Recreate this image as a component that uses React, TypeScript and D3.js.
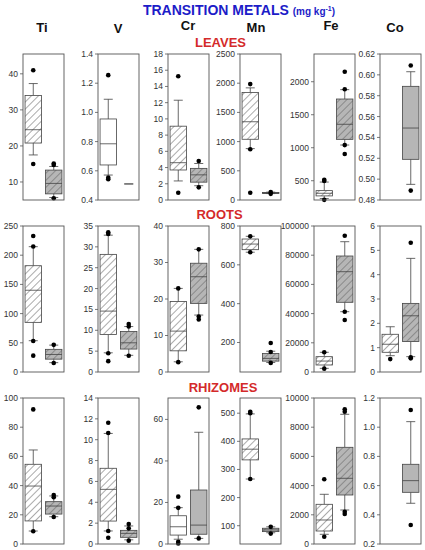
import React from "react";
import * as d3 from "d3";

type Stat = { g: number; lo: number; q1: number; med: number; q3: number; hi: number; out: number[] };

const metals = ["Ti", "V", "Cr", "Mn", "Fe", "Co"];
const tissues = ["LEAVES", "ROOTS", "RHIZOMES"];

// y-axis domains per panel
const leavesDomains = [[5, 45.5], [0.4, 1.4], [0, 18], [0, 2500], [208, 2420], [0.48, 0.62]];
const rootsDomains = [[0, 250], [0, 35], [0, 40], [48, 800], [0, 100000], [0, 6]];
const rhizomesDomains = [[0, 100], [0, 14], [0, 70.3], [35, 554], [0, 10000], [0.2, 1.2]];

// tick labels per panel
const leavesTicks = [
  ["10", "20", "30", "40"],
  ["0.4", "0.6", "0.8", "1.0", "1.2", "1.4"],
  ["0", "2", "4", "6", "8", "10", "12", "14", "16", "18"],
  ["0", "500", "1000", "1500", "2000", "2500"],
  ["500", "1000", "1500", "2000"],
  ["0.48", "0.50", "0.52", "0.54", "0.56", "0.58", "0.60", "0.62"],
];
const rootsTicks = [
  ["0", "50", "100", "150", "200", "250"],
  ["0", "5", "10", "15", "20", "25", "30", "35"],
  ["0", "10", "20", "30", "40"],
  ["200", "400", "600", "800"],
  ["0", "20000", "40000", "60000", "80000", "100000"],
  ["0", "1", "2", "3", "4", "5", "6"],
];
const rhizomesTicks = [
  ["0", "20", "40", "60", "80", "100"],
  ["0", "2", "4", "6", "8", "10", "12", "14"],
  ["0", "20", "40", "60"],
  ["100", "200", "300", "400", "500"],
  ["0", "2000", "4000", "6000", "8000", "10000"],
  ["0.2", "0.4", "0.6", "0.8", "1.0", "1.2"],
];

// box statistics: [metal index][group]
const leavesStats: (Stat | null)[][] = [
  [
    { g: 0, lo: 17.5, q1: 20.8, med: 24.5, q3: 34, hi: 37.3, out: [15, 41] },
    { g: 1, lo: 5.7, q1: 6.7, med: 9.6, q3: 13.3, hi: 14.3, out: [5.5, 14.7, 15.1] },
  ],
  [
    { g: 0, lo: 0.571, q1: 0.64, med: 0.785, q3: 0.955, hi: 1.09, out: [0.542, 0.553, 1.255] },
    { g: 1, lo: 0.51, q1: 0.51, med: 0.51, q3: 0.51, hi: 0.51, out: [] },
  ],
  [
    { g: 0, lo: 2.35, q1: 3.7, med: 4.6, q3: 9.1, hi: 12.3, out: [0.9, 15.25] },
    { g: 1, lo: 1.76, q1: 2.2, med: 3.1, q3: 3.9, hi: 4.5, out: [1.56, 4.8] },
  ],
  [
    { g: 0, lo: 880, q1: 1040, med: 1340, q3: 1840, hi: 1920, out: [125, 870, 1985] },
    { g: 1, lo: 110, q1: 110, med: 120, q3: 130, hi: 135, out: [105, 135] },
  ],
  [
    { g: 0, lo: 230, q1: 270, med: 310, q3: 350, hi: 480, out: [210, 495, 515] },
    { g: 1, lo: 1041, q1: 1127, med: 1355, q3: 1738, hi: 1880, out: [905, 1040, 1885, 2150] },
  ],
  [
    null,
    { g: 1, lo: 0.495, q1: 0.519, med: 0.549, q3: 0.589, hi: 0.603, out: [0.489, 0.609] },
  ],
];
const rootsStats: (Stat | null)[][] = [
  [
    { g: 0, lo: 53.6, q1: 85, med: 140, q3: 182, hi: 214.6, out: [28, 53, 215, 233] },
    { g: 1, lo: 16, q1: 22, med: 30, q3: 38.8, hi: 46, out: [15.5, 46.5] },
  ],
  [
    { g: 0, lo: 4.6, q1: 9.0, med: 14.6, q3: 28.2, hi: 32.8, out: [2.6, 4.5, 33.1, 33.5] },
    { g: 1, lo: 4.0, q1: 5.5, med: 7.0, q3: 9.7, hi: 10.9, out: [3.9, 10.9, 11.5] },
  ],
  [
    { g: 0, lo: 2.8, q1: 5.8, med: 11.2, q3: 19.3, hi: 22.9, out: [2.7, 22.9] },
    { g: 1, lo: 15.6, q1: 18.8, med: 26.1, q3: 29.8, hi: 33.6, out: [14.4, 15.2, 33.6] },
  ],
  [
    { g: 0, lo: 665, q1: 678, med: 707, q3: 733, hi: 747, out: [665, 747] },
    { g: 1, lo: 97, q1: 104, med: 118, q3: 143, hi: 155, out: [95, 151, 197] },
  ],
  [
    { g: 0, lo: 2500, q1: 4800, med: 7500, q3: 10500, hi: 13500, out: [2300, 13500] },
    { g: 1, lo: 41300, q1: 47740, med: 68700, q3: 79450, hi: 89250, out: [35600, 41300, 93360] },
  ],
  [
    { g: 0, lo: 0.67, q1: 0.81, med: 1.14, q3: 1.55, hi: 1.86, out: [0.53] },
    { g: 1, lo: 0.63, q1: 1.25, med: 2.31, q3: 2.82, hi: 4.67, out: [0.56, 0.6, 5.31] },
  ],
];
const rhizomesStats: (Stat | null)[][] = [
  [
    { g: 0, lo: 8.9, q1: 15.8, med: 39.7, q3: 54.6, hi: 64.4, out: [8.7, 92.2] },
    { g: 1, lo: 18.7, q1: 20.5, med: 26, q3: 29, hi: 32.9, out: [18.5, 32, 33.6] },
  ],
  [
    { g: 0, lo: 1.25, q1: 2.2, med: 5.24, q3: 7.26, hi: 10.6, out: [0.6, 1.25, 10.65, 11.63] },
    { g: 1, lo: 0.4, q1: 0.64, med: 1.02, q3: 1.31, hi: 1.73, out: [0.32, 1.5, 1.92] },
  ],
  [
    { g: 0, lo: 2.3, q1: 4.3, med: 8.3, q3: 13.6, hi: 17.5, out: [0.3, 1.1, 17.4, 22.8] },
    { g: 1, lo: 2.7, q1: 4.7, med: 9.1, q3: 26, hi: 53.8, out: [2.7, 65.8] },
  ],
  [
    { g: 0, lo: 266, q1: 334, med: 372, q3: 408.5, hi: 497.5, out: [266, 500, 505] },
    { g: 1, lo: 75, q1: 79, med: 85, q3: 91, hi: 96, out: [72, 96] },
  ],
  [
    { g: 0, lo: 664, q1: 890, med: 1644, q3: 2719, hi: 3404, out: [500, 4432] },
    { g: 1, lo: 2329, q1: 3356, med: 4500, q3: 6623, hi: 8883, out: [2055, 2212, 9062, 9226] },
  ],
  [
    null,
    { g: 1, lo: 0.479, q1: 0.554, med: 0.634, q3: 0.746, hi: 1.038, out: [0.33, 1.118] },
  ],
];

// fill kinds: wh = white hatched, gh = gray hatched, w = white, g = gray, none = whisker only
const leavesKinds = [["wh", "gh"], ["w", "none"], ["wh", "gh"], ["wh", "gh"], ["wh", "gh"], ["w", "g"]];
const rootsKinds = [["wh", "gh"], ["wh", "gh"], ["wh", "gh"], ["wh", "gh"], ["wh", "gh"], ["wh", "gh"]];
const rhizomesKinds = [["wh", "gh"], ["wh", "gh"], ["w", "g"], ["wh", "gh"], ["wh", "gh"], ["w", "g"]];

const rows = [
  { domains: leavesDomains, ticks: leavesTicks, stats: leavesStats, kinds: leavesKinds },
  { domains: rootsDomains, ticks: rootsTicks, stats: rootsStats, kinds: rootsKinds },
  { domains: rhizomesDomains, ticks: rhizomesTicks, stats: rhizomesStats, kinds: rhizomesKinds },
];

const FONT = "'Liberation Sans', Arial, Helvetica, sans-serif";
const panelLefts = [23, 98, 168, 240, 314, 380];
const panelW = 41;
const rowTops = [54, 226, 398];
const panelH = 146;
const titleX = [42, 118, 188, 256, 331, 395];
const titleY = [32, 33, 30, 32, 30, 32];
const rowLabelX = [220.5, 219.5, 223];
const rowLabelY = [47, 219, 392];

const GRAY = "#b6b6b6";

function fillFor(kind: string) {
  if (kind === "wh") return "url(#hatchW)";
  if (kind === "gh") return "url(#hatchG)";
  if (kind === "g") return GRAY;
  return "#fff";
}

function Panel({ left, top, domain, ticks, stats, kinds }: any) {
  const y = d3.scaleLinear().domain(domain).range([panelH, 0]);
  const x = d3.scaleBand<number>().domain([0, 1]).range([0, panelW]).paddingInner(0.2).paddingOuter(0.1);
  const bw = x.bandwidth();
  const capW = 9;
  return (
    <g transform={`translate(${left},${top})`}>
      {ticks.map((t: string) => {
        const v = Number(t);
        return (
          <g key={t} transform={`translate(0,${y(v)})`}>
            <line x1={-3} x2={0} stroke="#555" strokeWidth={0.8} />
            <text x={-5} dy="0.35em" textAnchor="end" fontSize={8.5} fill="#333" fontFamily={FONT}>
              {t}
            </text>
          </g>
        );
      })}
      {stats.map((s: Stat | null, i: number) => {
        if (!s) return null;
        const kind = kinds[i];
        const cx = (x(s.g) as number) + bw / 2;
        const x0 = x(s.g) as number;
        return (
          <g key={i}>
            {kind !== "none" && (
              <>
                <line x1={cx} x2={cx} y1={y(s.lo)} y2={y(s.q1)} stroke="#444" strokeWidth={0.8} />
                <line x1={cx} x2={cx} y1={y(s.q3)} y2={y(s.hi)} stroke="#444" strokeWidth={0.8} />
                <rect
                  x={x0}
                  y={y(s.q3)}
                  width={bw}
                  height={Math.max(0.6, y(s.q1) - y(s.q3))}
                  fill={fillFor(kind)}
                  stroke="#444"
                  strokeWidth={0.8}
                />
                <line x1={x0} x2={x0 + bw} y1={y(s.med)} y2={y(s.med)} stroke="#444" strokeWidth={0.8} />
              </>
            )}
            <line x1={cx - capW / 2} x2={cx + capW / 2} y1={y(s.lo)} y2={y(s.lo)} stroke="#444" strokeWidth={0.8} />
            <line x1={cx - capW / 2} x2={cx + capW / 2} y1={y(s.hi)} y2={y(s.hi)} stroke="#444" strokeWidth={0.8} />
            {s.out.map((o, j) => (
              <circle key={j} cx={cx} cy={y(o)} r={2.3} fill="#000" />
            ))}
          </g>
        );
      })}
      <rect x={0} y={0} width={panelW} height={panelH} fill="none" stroke="#555" strokeWidth={0.9} />
    </g>
  );
}

export default function App() {
  return (
    <svg
      width={425}
      height={550}
      viewBox="0 0 425 550"
      style={{ position: "absolute", left: 0, top: 0, background: "#fff" }}
    >
      <defs>
        <pattern id="hatchW" patternUnits="userSpaceOnUse" width={5} height={5} patternTransform="rotate(45)">
          <rect width={5} height={5} fill="#fff" />
          <line x1={0} y1={0} x2={0} y2={5} stroke="#666" strokeWidth={1.1} />
        </pattern>
        <pattern id="hatchG" patternUnits="userSpaceOnUse" width={5} height={5} patternTransform="rotate(45)">
          <rect width={5} height={5} fill={GRAY} />
          <line x1={0} y1={0} x2={0} y2={5} stroke="#666" strokeWidth={1.1} />
        </pattern>
      </defs>
      <text x={239} y={15} textAnchor="middle" fontFamily={FONT} fontWeight="bold" fill="#1c1cc8">
        <tspan fontSize={14}>TRANSITION METALS </tspan>
        <tspan fontSize={10}>(mg kg</tspan>
        <tspan fontSize={7} dy={-4}>-1</tspan>
        <tspan fontSize={10} dy={4}>)</tspan>
      </text>
      {metals.map((m, i) => (
        <text key={m} x={titleX[i]} y={titleY[i]} textAnchor="middle" fontFamily={FONT} fontWeight="bold" fontSize={13} fill="#111">
          {m}
        </text>
      ))}
      {tissues.map((t, r) => (
        <text key={t} x={rowLabelX[r]} y={rowLabelY[r]} textAnchor="middle" fontFamily={FONT} fontWeight="bold" fontSize={13} fill="#d42a2a">
          {t}
        </text>
      ))}
      {rows.map((row, r) =>
        metals.map((m, i) => (
          <Panel
            key={`${r}-${m}`}
            left={panelLefts[i]}
            top={rowTops[r]}
            domain={row.domains[i]}
            ticks={row.ticks[i]}
            stats={row.stats[i]}
            kinds={row.kinds[i]}
          />
        ))
      )}
    </svg>
  );
}
